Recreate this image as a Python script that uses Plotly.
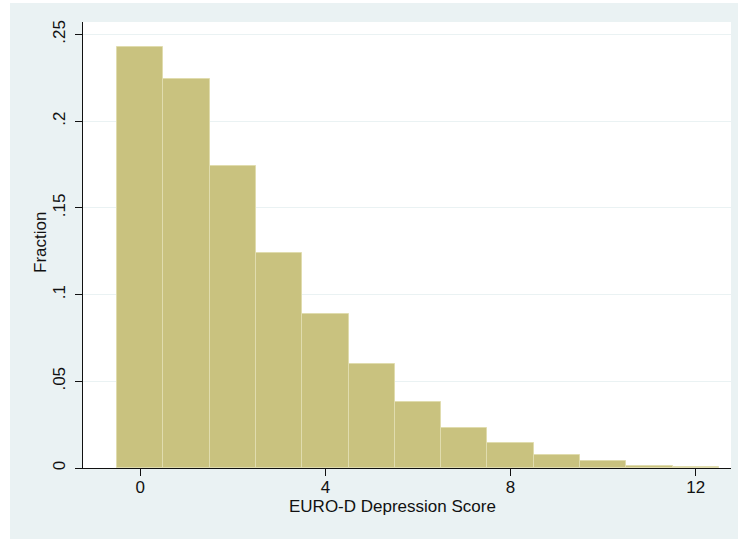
import plotly.graph_objects as go

# EURO-D depression score histogram (fraction of respondents per score)
scores = [0, 1, 2, 3, 4, 5, 6, 7, 8, 9, 10, 11, 12]
fractions = [0.2430, 0.2242, 0.1741, 0.1240, 0.0889, 0.0599, 0.0380, 0.0231,
             0.0143, 0.0075, 0.0039, 0.0013, 0.0004]

y_ticks = [0, 0.05, 0.10, 0.15, 0.20, 0.25]
y_tick_labels = ["0", ".05", ".1", ".15", ".2", ".25"]
x_ticks = [0, 4, 8, 12]
x_tick_labels = ["0", "4", "8", "12"]

BG = "#EAF2F3"
BAR = "#C9C27F"
BAR_EDGE = "#E0DCAE"
INK = "#111111"
FONT = "Liberation Sans, Arial, sans-serif"
FS = 17

W, H = 738, 539
L, R, T, B = 83, 7, 22, 71
plot_w = W - L - R
plot_h = H - T - B

fig = go.Figure(
    go.Bar(
        x=scores,
        y=fractions,
        width=1,
        marker=dict(color=BAR, line=dict(color=BAR_EDGE, width=1)),
        hoverinfo="x+y",
    )
)

# thin white border at the top and left of the outer region
white_left = -(L - 10) / plot_w
white_top = 1 + (T - 3) / plot_h
fig.add_shape(type="rect", xref="paper", yref="paper",
              x0=-L / plot_w - 0.01, x1=white_left, y0=-B / plot_h - 0.01, y1=1 + T / plot_h + 0.01,
              fillcolor="white", line_width=0, layer="below")
fig.add_shape(type="rect", xref="paper", yref="paper",
              x0=-L / plot_w - 0.01, x1=1 + R / plot_w + 0.01, y0=white_top, y1=1 + T / plot_h + 0.01,
              fillcolor="white", line_width=0, layer="below")

# axis titles
fig.add_annotation(text="EURO-D Depression Score", xref="paper", yref="paper",
                   x=(392 - L) / plot_w, y=-(507 - (T + plot_h)) / plot_h,
                   xanchor="center", yanchor="middle", showarrow=False,
                   font=dict(family=FONT, size=FS, color=INK))
fig.add_annotation(text="Fraction", xref="paper", yref="paper",
                   x=-(L - 40) / plot_w, y=(T + plot_h - 243) / plot_h,
                   xanchor="center", yanchor="middle", textangle=-90, showarrow=False,
                   font=dict(family=FONT, size=FS, color=INK))

fig.update_layout(
    width=W, height=H,
    margin=dict(l=L, r=R, t=T, b=B, pad=0),
    paper_bgcolor=BG,
    plot_bgcolor="white",
    showlegend=False,
    bargap=0,
    font=dict(family=FONT, size=FS, color=INK),
    xaxis=dict(
        range=[-1.235, 12.76],
        tickmode="array", tickvals=x_ticks, ticktext=x_tick_labels,
        ticks="outside", ticklen=7, tickwidth=1, tickcolor=INK,
        ticklabelstandoff=-3,
        showline=True, linecolor=INK, linewidth=1,
        showgrid=False, zeroline=False,
        tickfont=dict(size=FS, color=INK),
    ),
    yaxis=dict(
        range=[0, 0.2572],
        tickmode="array", tickvals=y_ticks, ticktext=y_tick_labels,
        tickangle=-90,
        ticks="outside", ticklen=7, tickwidth=1, tickcolor=INK,
        ticklabelstandoff=3,
        showline=True, linecolor=INK, linewidth=1,
        showgrid=True, gridcolor=BG, gridwidth=1,
        zeroline=False,
        tickfont=dict(size=FS, color=INK),
    ),
)

fig.write_html("out.html")
